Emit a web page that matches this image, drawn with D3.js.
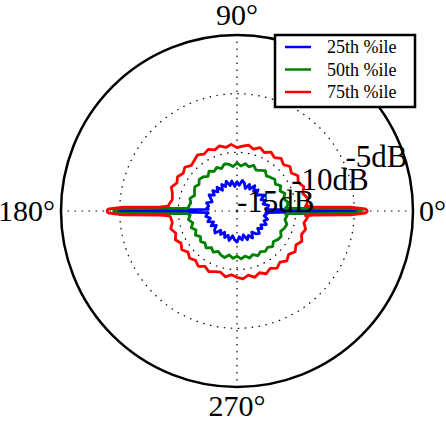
<!DOCTYPE html>
<html>
<head>
<meta charset="utf-8">
<script src="https://cdnjs.cloudflare.com/ajax/libs/d3/7.8.5/d3.min.js"></script>
<style>
	html, body { margin: 0; padding: 0; background: #fff; }
	svg { display: block; font-family: "Liberation Serif", "DejaVu Serif", serif; }
</style>
</head>
<body>
<div id="chart"></div>
<script>
(function() {
	"use strict";

	// angles in degrees, 0 = east, counter-clockwise, every 5 degrees
	var angles = d3.range(0, 360, 5);

	// values in dB; 0 and 180 degrees hold the tip of the narrow lobes
	var p25 = [
		-4.8, -12.45, -12.25, -12.7, -12.4, -12.75, -12.3, -12.6, -12.9, -12.45, -12.8, -12.35,
		-12.85, -12.5, -12.95, -12.55, -12.35, -12.8, -12.5, -12.9, -12.4, -12.75, -12.3, -12.7,
		-12.4, -12.85, -12.35, -12.7, -12.3, -12.65, -12.25, -12.55, -12.75, -12.3, -12.55, -12.4,
		-4.9, -12.45, -12.3, -12.65, -12.35, -12.8, -12.45, -12.85, -12.5, -12.35, -12.85, -12.55,
		-12.9, -12.5, -12.8, -12.4, -12.85, -12.55, -12.35, -12.8, -12.5, -12.9, -12.4, -12.7,
		-12.35, -12.8, -12.45, -12.3, -12.7, -12.4, -12.65, -12.25, -12.55, -12.3, -12.65, -12.4
	];
	var p50 = [
		-4.4, -10.7, -10.6, -10.9, -10.65, -10.95, -10.7, -11.0, -10.8, -10.95, -11.1, -10.8,
		-11.0, -11.15, -10.85, -11.1, -10.9, -11.15, -10.9, -11.2, -10.95, -10.85, -11.15, -10.9,
		-11.1, -10.85, -11.15, -10.9, -10.8, -11.05, -10.85, -11.0, -11.15, -10.85, -11.0, -10.85,
		-4.5, -11.0, -10.8, -11.1, -10.85, -11.15, -10.9, -11.2, -10.95, -11.15, -10.9, -11.2,
		-10.95, -11.2, -11.0, -10.9, -11.2, -10.95, -11.15, -10.9, -11.1, -10.85, -11.05, -10.8,
		-11.0, -10.8, -10.95, -10.7, -10.95, -10.75, -10.65, -10.9, -10.7, -10.6, -10.85, -10.7
	];
	var p75 = [
		-3.9, -9.05, -8.85, -9.2, -8.95, -9.25, -9.0, -9.35, -9.1, -9.4, -9.15, -9.45,
		-9.2, -9.5, -9.25, -9.55, -9.3, -9.45, -9.6, -9.3, -9.5, -9.25, -9.45, -9.2,
		-9.4, -9.15, -9.35, -9.5, -9.2, -9.4, -9.15, -9.35, -9.05, -9.3, -9.4, -9.15,
		-3.95, -9.3, -9.4, -9.15, -9.45, -9.2, -9.5, -9.25, -9.55, -9.3, -9.5, -9.25,
		-9.55, -9.3, -9.5, -9.6, -9.3, -9.55, -9.35, -9.2, -9.45, -9.15, -9.4, -9.1,
		-9.35, -9.05, -9.3, -9.0, -9.25, -8.95, -9.2, -8.9, -9.15, -8.95, -9.2, -8.95
	];

	// lobe flanks, degrees away from 0 and 180 on either side
	var lobeOffsets = [0.5, 1, 2, 3, 4];
	var lobe25 = [-5.3, -8.0, -11.4, -12.5, -12.55];
	var lobe50 = [-4.5, -5.0, -8.8, -10.8, -10.85];
	var lobe75 = [-3.95, -4.1, -5.3, -8.5, -9.15];

	var seriesNames = ['25th %ile', '50th %ile', '75th %ile'];
	var seriesColors = ['#0000ff', '#008000', '#ff0000'];

	var thetaTicks = [0, 90, 180, 270];
	var thetaLabels = ['0\u00b0', '90\u00b0', '180\u00b0', '270\u00b0'];
	var rTicks = [-15, -10, -5];
	var rLabels = ['-15dB', '-10dB', '-5dB'];

	var width = 446, height = 427;
	var cx = 237, cy = 211, radius = 176;

	var r = d3.scaleLinear().domain([-15, 0]).range([0, radius]);

	var svg = d3.select('#chart')
		.append('svg')
		.attr('width', width)
		.attr('height', height);

	var plot = svg.append('g')
		.attr('transform', 'translate(' + cx + ',' + cy + ')');

	function xy(deg, rad) {
		var a = deg * Math.PI / 180;
		return [rad * Math.cos(a), -rad * Math.sin(a)];
	}

	// grid
	plot.selectAll('.rgrid')
		.data(rTicks.filter(function (t) { return t > -15; }))
		.enter()
		.append('circle')
		.attr('r', function (t) { return r(t); })
		.attr('fill', 'none')
		.attr('stroke', '#000')
		.attr('stroke-width', 1.2)
		.attr('stroke-dasharray', '1.5,5.5');

	plot.selectAll('.tgrid')
		.data(thetaTicks)
		.enter()
		.append('line')
		.attr('x1', 0)
		.attr('y1', 0)
		.attr('x2', function (t) { return xy(t, radius)[0]; })
		.attr('y2', function (t) { return xy(t, radius)[1]; })
		.attr('stroke', '#000')
		.attr('stroke-width', 1.2)
		.attr('stroke-dasharray', '1.5,5.5');

	// series
	function buildPoints(values, lobe) {
		var pts = [];
		angles.forEach(function (a, i) {
			pts.push([a, values[i]]);
			if (a === 0 || a === 180) {
				lobeOffsets.forEach(function (o, j) {
					pts.push([(a + o) % 360, lobe[j]]);
					pts.push([(a - o + 360) % 360, lobe[j]]);
				});
			}
		});
		pts.sort(function (p, q) { return p[0] - q[0]; });
		return pts;
	}

	var series = [
		buildPoints(p25, lobe25),
		buildPoints(p50, lobe50),
		buildPoints(p75, lobe75)
	];

	var line = d3.lineRadial()
		.angle(function (d) { return (90 - d[0]) * Math.PI / 180; })
		.radius(function (d) { return r(d[1]); })
		.curve(d3.curveLinearClosed);

	plot.selectAll('.series')
		.data(series)
		.enter()
		.append('path')
		.attr('d', line)
		.attr('fill', 'none')
		.attr('stroke', function (d, i) { return seriesColors[i]; })
		.attr('stroke-width', 2.8)
		.attr('stroke-linejoin', 'round');

	// outer frame
	plot.append('circle')
		.attr('r', radius)
		.attr('fill', 'none')
		.attr('stroke', '#000')
		.attr('stroke-width', 2.5);

	// radial labels at 22.5 degrees
	plot.selectAll('.rlabel')
		.data(rTicks)
		.enter()
		.append('text')
		.attr('x', function (t) { return xy(22.5, r(t))[0]; })
		.attr('y', function (t) { return xy(22.5, r(t))[1] + 1; })
		.attr('font-size', 31)
		.text(function (t, i) { return rLabels[i]; });

	// angle labels
	var pad = 6;
	plot.selectAll('.tlabel')
		.data(thetaTicks)
		.enter()
		.append('text')
		.attr('x', function (t) { return xy(t, radius + pad)[0]; })
		.attr('y', function (t) { return xy(t, radius + pad)[1]; })
		.attr('font-size', 30)
		.attr('text-anchor', function (t) { return t === 0 ? 'start' : (t === 180 ? 'end' : 'middle'); })
		.attr('dy', function (t) { return t === 90 ? '-0.12em' : (t === 270 ? '0.78em' : '0.33em'); })
		.text(function (t, i) { return thetaLabels[i]; });

	// legend
	var legend = svg.append('g')
		.attr('transform', 'translate(275,35)');

	legend.append('rect')
		.attr('width', 140)
		.attr('height', 72)
		.attr('fill', '#fff')
		.attr('stroke', '#000')
		.attr('stroke-width', 2.5);

	var items = legend.selectAll('.item')
		.data(seriesNames)
		.enter()
		.append('g')
		.attr('transform', function (d, i) { return 'translate(0,' + (12 + i * 22.5) + ')'; });

	items.append('line')
		.attr('x1', 10)
		.attr('x2', 36)
		.attr('stroke', function (d, i) { return seriesColors[i]; })
		.attr('stroke-width', 2.5);

	items.append('text')
		.attr('x', 52)
		.attr('y', 6)
		.attr('font-size', 18)
		.text(function (d) { return d; });
}());
</script>
</body>
</html>
